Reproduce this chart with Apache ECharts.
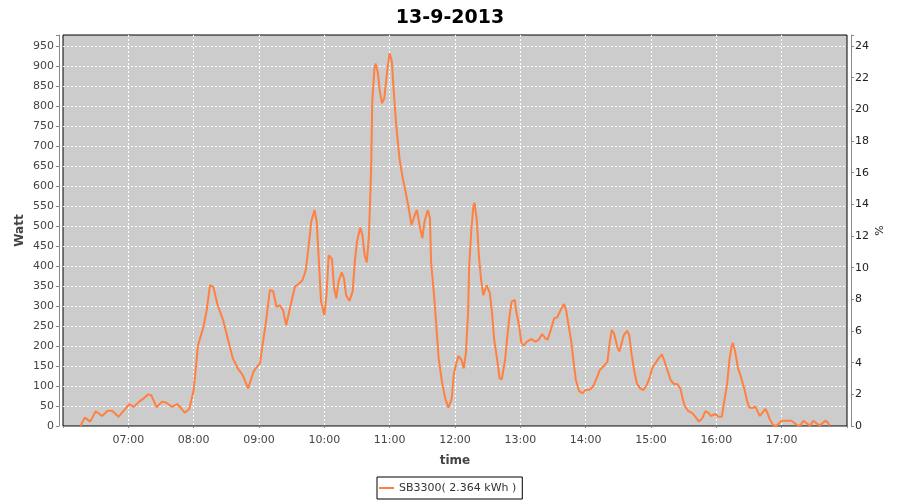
<!DOCTYPE html>
<html>
<head>
<meta charset="utf-8">
<script src="https://cdn.jsdelivr.net/npm/echarts@6/dist/echarts.min.js"></script>
<style>html,body{margin:0;padding:0;background:#fff}#c{width:900px;height:500px}</style>
</head>
<body>
<div id="c"></div>
<script>
var titleText = '13-9-2013';
var seriesName = 'SB3300( 2.364 kWh )';
var times = ['06:16','06:20','06:25','06:30','06:36','06:41','06:45','06:51','06:55','07:01','07:05','07:10','07:14','07:18','07:21','07:26','07:31','07:35','07:40','07:45','07:52','07:56','08:00','08:04','08:09','08:12','08:15','08:18','08:22','08:27','08:32','08:36','08:41','08:45','08:50','08:55','08:57','09:01','09:03','09:06','09:10','09:13','09:16','09:19','09:22','09:25','09:29','09:33','09:37','09:40','09:43','09:46','09:48','09:51','09:53','09:55','09:57','10:00','10:02','10:04','10:07','10:09','10:11','10:13','10:16','10:18','10:20','10:23','10:26','10:28','10:30','10:33','10:35','10:37','10:39','10:41','10:43','10:44','10:46','10:47','10:49','10:51','10:53','10:55','10:58','11:00','11:02','11:04','11:06','11:09','11:12','11:14','11:17','11:20','11:23','11:25','11:28','11:30','11:32','11:35','11:37','11:38','11:41','11:43','11:45','11:48','11:51','11:54','11:57','11:59','12:03','12:06','12:08','12:10','12:12','12:13','12:15','12:17','12:18','12:20','12:22','12:24','12:26','12:29','12:32','12:34','12:36','12:39','12:41','12:43','12:46','12:48','12:50','12:52','12:55','12:56','12:59','13:01','13:03','13:06','13:10','13:14','13:17','13:20','13:23','13:25','13:28','13:31','13:34','13:37','13:40','13:42','13:44','13:47','13:49','13:51','13:54','13:57','14:00','14:04','14:07','14:10','14:13','14:16','14:20','14:22','14:24','14:26','14:29','14:31','14:33','14:35','14:38','14:40','14:42','14:45','14:47','14:50','14:53','14:56','14:59','15:01','15:04','15:07','15:10','15:12','15:15','15:18','15:21','15:24','15:27','15:29','15:31','15:34','15:38','15:41','15:44','15:47','15:50','15:53','15:55','15:59','16:02','16:05','16:07','16:10','16:12','16:14','16:15','16:17','16:20','16:23','16:26','16:28','16:30','16:33','16:36','16:38','16:40','16:42','16:45','16:47','16:49','16:52','16:55','16:58','17:00','17:09','17:12','17:15','17:17','17:20','17:23','17:26','17:29','17:32','17:35','17:40','17:42','17:44'];
var watt = [0,21,11,37,25,38,38,23,36,55,48,61,69,79,77,47,61,58,48,55,33,43,90,202,248,290,352,348,302,265,211,169,142,127,94,136,144,157,198,252,340,337,298,302,290,252,302,348,357,365,390,461,511,540,511,411,311,277,327,427,417,344,319,361,384,370,327,313,336,411,461,496,477,427,409,477,644,811,894,906,886,836,807,819,894,932,911,827,752,669,619,594,552,502,527,540,494,469,511,540,519,411,319,244,169,111,69,46,69,132,175,165,144,182,282,398,490,552,558,515,423,365,327,352,332,282,215,161,119,117,165,223,273,311,315,290,248,207,201,211,217,211,216,230,219,216,240,269,272,290,305,290,257,207,157,115,87,82,90,91,100,119,140,148,161,207,240,232,198,186,207,227,238,227,182,132,107,94,90,102,123,144,157,169,179,165,140,115,105,105,94,69,50,38,32,22,11,19,37,32,25,30,23,23,57,107,165,198,208,190,144,119,90,65,47,45,48,36,25,32,43,32,17,3,0,8,13,13,7,1,1,13,7,1,13,7,1,13,10,1];
var hourLabels = ['07:00','08:00','09:00','10:00','11:00','12:00','13:00','14:00','15:00','16:00','17:00'];

function toMin(s){var p=s.split(':');return (+p[0])*60+(+p[1]);}
function fmtMin(v){var h=Math.floor(v/60),m=Math.round(v%60);return (h<10?'0':'')+h+':'+(m<10?'0':'')+m;}
var data = times.map(function(t,i){return [toMin(t), watt[i]];});

var FONT = 'DejaVu Sans';
var chart = echarts.init(document.getElementById('c'), null, {renderer:'canvas'});
chart.setOption({
  backgroundColor:'#ffffff',
  animation:false,
  title:{text:titleText,left:'center',top:4,textStyle:{fontFamily:FONT,fontSize:19,fontWeight:'bold',color:'#000'}},
  grid:{left:63,right:53,top:35,bottom:74,show:true,backgroundColor:'#cccccc',borderColor:'#000',borderWidth:1},
  legend:{left:377,top:477,padding:[4,6,4,2],icon:'rect',itemWidth:15,itemHeight:2,borderColor:'#000',borderWidth:1,
    textStyle:{fontFamily:FONT,fontSize:11,color:'#333',lineHeight:14},data:[seriesName]},
  xAxis:{type:'value',min:360,max:1080,interval:60,offset:4,
    name:'time',nameLocation:'middle',nameGap:25,nameTextStyle:{fontFamily:FONT,fontSize:12,fontWeight:'bold',color:'#444'},
    axisLine:{show:true,lineStyle:{color:'#888'}},axisTick:{show:true,length:2,lineStyle:{color:'#888'}},
    axisLabel:{margin:5,fontFamily:FONT,fontSize:11,color:'#444',formatter:function(v){var s=fmtMin(v);return hourLabels.indexOf(s)>=0?s:'';}},
    splitLine:{show:true,showMinLine:false,showMaxLine:false,lineStyle:{color:'#ffffff',type:[2,2],width:1}}},
  yAxis:[{type:'value',min:0,max:977.5,interval:50,offset:4,position:'left',
    name:'Watt',nameLocation:'middle',nameGap:33,nameMoveOverlap:false,nameTextStyle:{fontFamily:FONT,fontSize:12,fontWeight:'bold',color:'#444'},
    axisLine:{show:true,lineStyle:{color:'#888'}},axisTick:{show:true,length:3,lineStyle:{color:'#888'}},
    axisLabel:{margin:5,fontFamily:FONT,fontSize:11,color:'#444',formatter:function(v){return v%50===0?String(v):'';}},
    splitLine:{show:true,showMinLine:false,showMaxLine:false,lineStyle:{color:'#ffffff',type:[2,2],width:1}}},
   {type:'value',min:0,max:24.695,interval:2,offset:4,position:'right',
    name:'%',nameLocation:'middle',nameGap:24,nameMoveOverlap:false,nameTextStyle:{fontFamily:FONT,fontSize:11,color:'#222'},
    axisLine:{show:true,lineStyle:{color:'#888'}},axisTick:{show:true,length:3,lineStyle:{color:'#888'}},
    axisLabel:{margin:4,fontFamily:FONT,fontSize:11,color:'#222',formatter:function(v){return v%2===0?String(v):'';}},
    splitLine:{show:false}}],
  series:[{name:seriesName,type:'line',yAxisIndex:0,data:data,showSymbol:false,symbol:'none',
    lineStyle:{color:'#ff8040',width:2},itemStyle:{color:'#ff8040'}}]
});
</script>
</body>
</html>
